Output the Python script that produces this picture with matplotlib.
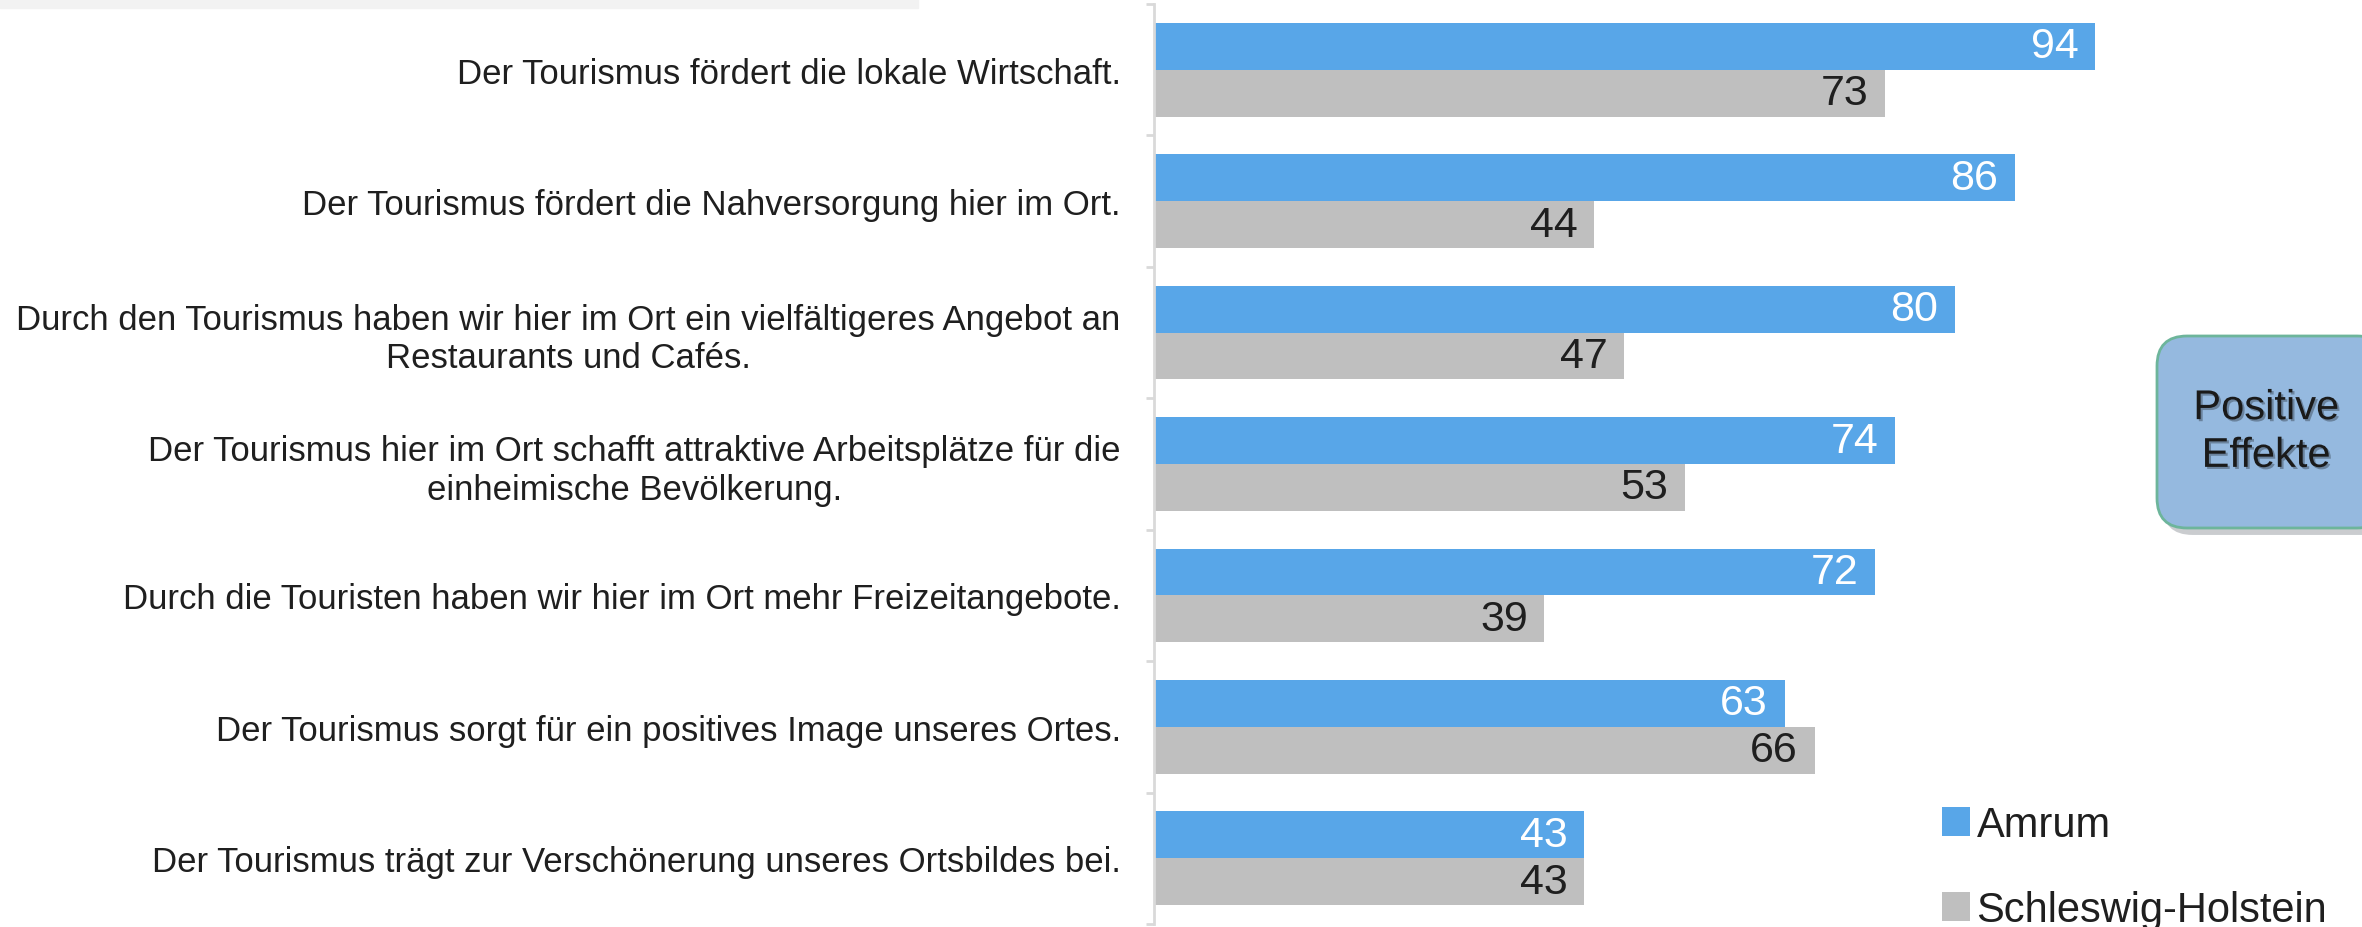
import matplotlib as mpl
mpl.use('Agg')
import matplotlib.pyplot as plt
from matplotlib.patches import FancyBboxPatch, Rectangle
import matplotlib.patheffects as pe
import numpy as np

kategorien = [
    "Der Tourismus fördert die lokale Wirtschaft.",
    "Der Tourismus fördert die Nahversorgung hier im Ort.",
    "Durch den Tourismus haben wir hier im Ort ein vielfältigeres Angebot an\nRestaurants und Cafés.",
    "Der Tourismus hier im Ort schafft attraktive Arbeitsplätze für die\neinheimische Bevölkerung.",
    "Durch die Touristen haben wir hier im Ort mehr Freizeitangebote.",
    "Der Tourismus sorgt für ein positives Image unseres Ortes.",
    "Der Tourismus trägt zur Verschönerung unseres Ortsbildes bei.",
]
amrum = [94, 86, 80, 74, 72, 63, 43]
sh = [73, 44, 47, 53, 39, 66, 43]

plt.rcParams['font.family'] = ['Liberation Sans', 'DejaVu Sans']

fig = plt.figure(figsize=(23.62, 9.28), dpi=100)
ax = fig.add_axes([1154/2362, 3/928, 1001/2362, 920/928])

y = np.arange(len(kategorien))
h = 0.357
b1 = ax.barh(y - h/2, amrum, height=h, color='#58A6E8', label='Amrum')
b2 = ax.barh(y + h/2, sh, height=h, color='#BFBFBF', label='Schleswig-Holstein')

for bar, v in zip(b1, amrum):
    ax.annotate(str(v), (v, bar.get_y() + bar.get_height()/2), xytext=(-12, 0),
                textcoords='offset points', ha='right', va='center', fontsize=31, color='white')
for bar, v in zip(b2, sh):
    ax.annotate(str(v), (v, bar.get_y() + bar.get_height()/2), xytext=(-12, 0),
                textcoords='offset points', ha='right', va='center', fontsize=31, color='#1f1f1f')

ax.set_xlim(0, 100)
ax.set_ylim(len(kategorien) - 0.5, -0.5)
ax.set_yticks(y)
ax.set_yticklabels(kategorien, fontsize=25, color='#1f1f1f', multialignment='center')
ax.tick_params(axis='y', which='major', length=0, pad=24)
ax.set_yticks(np.arange(-0.5, len(kategorien)), minor=True)
ax.tick_params(axis='y', which='minor', length=6, color='#D9D9D9', width=2)
ax.set_xticks([])
for s in ['top', 'right', 'bottom']:
    ax.spines[s].set_visible(False)
ax.spines['left'].set_color('#D9D9D9')
ax.spines['left'].set_linewidth(2)

# grauer Streifen oben links
fig.patches.append(Rectangle((0, 919/928), 918/2362, 9/928, transform=fig.transFigure,
                             color='#F2F2F2', zorder=0))

# Kasten "Positive Effekte"
box = FancyBboxPatch((21.57, 3.99), 2.3, 1.92, boxstyle='round,pad=0,rounding_size=0.3',
                     transform=fig.dpi_scale_trans, facecolor='#95B9DF', edgecolor='#6DB59B',
                     linewidth=2,
                     path_effects=[pe.SimplePatchShadow(offset=(4, -5), alpha=0.25), pe.Normal()])
fig.patches.append(box)
fig.text(2266/2362, 1 - 433/928, "Positive\nEffekte", ha='center', va='center',
         fontsize=30, color='#1a1a1a', linespacing=1.25,
         path_effects=[pe.withSimplePatchShadow(offset=(1.5, -1.5), alpha=0.3)])

leg = fig.legend(handles=[b1, b2], loc='upper left', bbox_to_anchor=(1942/2362, 1 - 806/928),
                 frameon=False, fontsize=30, handlelength=0.68, handleheight=0.68,
                 handletextpad=0.15, labelspacing=1.08, borderaxespad=0, borderpad=0)
for t in leg.get_texts():
    t.set_color('#1f1f1f')

fig.savefig('out.png', dpi=100)
